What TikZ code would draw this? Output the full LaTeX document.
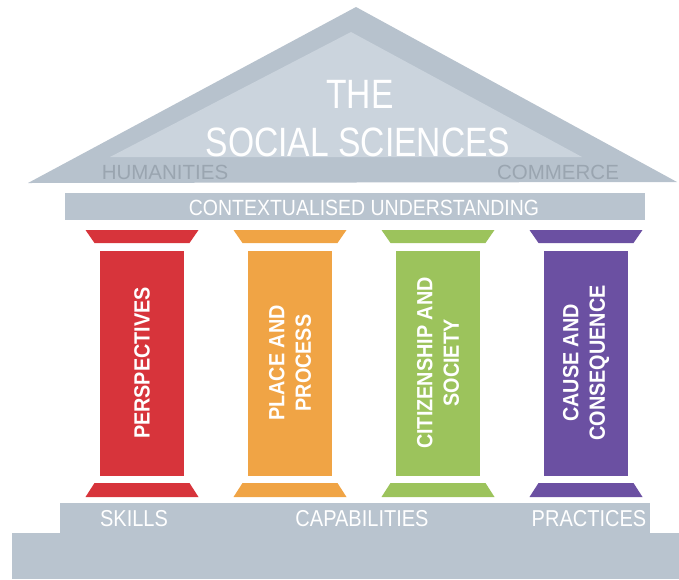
\documentclass[tikz,border=0pt]{standalone}
\usepackage{fontspec}
\setmainfont{Liberation Sans}
\newfontfamily\titlefont{Liberation Sans}[FakeStretch=0.82]
\newfontfamily\ctxfont{Liberation Sans}[FakeStretch=0.885]
\newfontfamily\stepfont{Liberation Sans}[FakeStretch=0.87]
\newfontfamily\shaftfont{Liberation Sans}[FakeStretch=0.9]
\definecolor{roofout}{HTML}{B7C2CD}
\definecolor{roofin}{HTML}{CBD4DD}
\definecolor{band}{HTML}{B9C4CF}
\definecolor{graytext}{HTML}{9AA5B0}
\definecolor{cred}{HTML}{D7343B}
\definecolor{corange}{HTML}{F0A445}
\definecolor{cgreen}{HTML}{9CC35C}
\definecolor{cpurple}{HTML}{6B50A2}
\tikzset{
  shaft/.style={rotate=90, minimum width=225pt, minimum height=84pt, inner sep=0pt, align=center,
    text=white, font=\shaftfont\bfseries\fontsize{22}{26.5}\selectfont},
  bandtext/.style={text=white, font=\ctxfont\fontsize{22}{24}\selectfont, inner sep=0pt},
  steptext/.style={text=white, font=\stepfont\fontsize{23}{25}\selectfont, inner sep=0pt},
  rooftext/.style={text=graytext, font=\fontsize{20.5}{22}\selectfont, inner sep=0pt},
  titletext/.style={text=white, font=\titlefont\fontsize{41}{44}\selectfont, inner sep=0pt}
}
\newcommand{\pillarends}[2]{%
  % #1 center x, #2 colour
  \fill[#2] (#1-56.5,230) -- (#1+56.5,230) -- (#1+47.5,243) -- (#1-47.5,243) -- cycle;
  \fill[#2] (#1-47.5,483) -- (#1+47.5,483) -- (#1+56.5,497) -- (#1-56.5,497) -- cycle;
}
\begin{document}
\begin{tikzpicture}[x=1pt,y=-1pt]
\useasboundingbox (0,0) rectangle (679,579);
% roof
\fill[roofout] (28,183) -- (356,7) -- (677,182) -- cycle;
\fill[roofin] (110,157) -- (351,32) -- (582,157) -- cycle;
\node[titletext] (the) at (360,94) {THE};
\node[titletext] (soc) at (358,142.5) {SOCIAL SCIENCES};
\node[rooftext] (hum) at (165,172.5) {HUMANITIES};
\node[rooftext] (com) at (558,172.5) {COMMERCE};
% architrave
\fill[band] (65,193) rectangle (645,220);
\node[bandtext] (ctx) at (364,208) {CONTEXTUALISED UNDERSTANDING};
% pillars
\pillarends{142}{cred}
\pillarends{290}{corange}
\pillarends{438}{cgreen}
\pillarends{586}{cpurple}
\node[shaft, fill=cred] (s1) at (142,363) {PERSPECTIVES};
\node[shaft, fill=corange] (s2) at (290,363) {PLACE AND\\PROCESS};
\node[shaft, fill=cgreen] (s3) at (438,363) {CITIZENSHIP AND\\SOCIETY};
\node[shaft, fill=cpurple] (s4) at (586,363) {CAUSE AND\\CONSEQUENCE};
% steps
\fill[band] (60,503) rectangle (650,534);
\fill[band] (12,533) rectangle (679,579);
\node[steptext] (sk) at (134,519) {SKILLS};
\node[steptext] (cap) at (362,519) {CAPABILITIES};
\node[steptext] (pr) at (589,519) {PRACTICES};
\end{tikzpicture}
\end{document}
